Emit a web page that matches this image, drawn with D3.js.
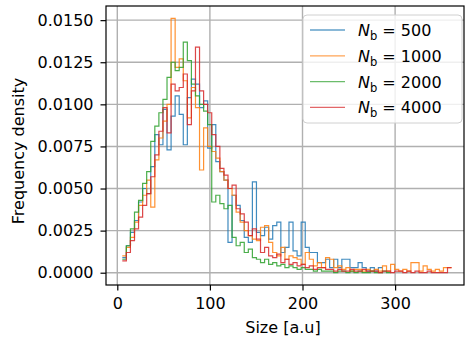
<!DOCTYPE html>
<html><head><meta charset="utf-8">
<script src="https://cdn.jsdelivr.net/npm/d3@7"></script>
<style>body{margin:0;background:#fff} text{font-family:"DejaVu Sans",sans-serif;fill:#000}</style>
</head><body><svg id="c" width="466" height="339"></svg>
<script>
// ---- data ----
const binStart = 5.4, binWidth = 4.39;
const seriesLabels = ["500", "1000", "2000", "4000"];
const seriesColors = ["#1f77b4", "#ff7f0e", "#2ca02c", "#d62728"];
const nb500 = [0.0009,0.0016,0.0024,0.0031,0.0042,0.0050,0.0047,0.0063,0.0082,0.0076,
 0.0097,0.0073,0.0093,0.0105,0.0094,0.0076,0.0104,0.0115,0.0112,0.0098,
 0.0102,0.0074,0.0088,0.0066,0.0060,0.0055,0.0018,0.0046,0.0040,0.0031,
 0.0021,0.0018,0.0054,0.0024,0.0022,0.0027,0.0020,0.0028,0.0030,0.0012,
 0.0015,0.0030,0.0013,0.0010,0.0030,0.0015,0.0012,0.0012,0.0006,0.0006,
 0.0008,0.0003,0.0008,0.0003,0.0008,0.0008,0.0003,0.0003,0.0006,0.0003,
 0.0001,0.0003,0.0001,0.0003];
const nb1000 = [0.0010,0.0015,0.0021,0.0030,0.0040,0.0046,0.0055,0.0039,0.0067,0.0080,
 0.0090,0.0100,0.0151,0.0122,0.0127,0.0114,0.0092,0.0110,0.0098,0.0061,
 0.0086,0.0075,0.0072,0.0068,0.0060,0.0055,0.0050,0.0046,0.0036,0.0030,
 0.0025,0.0022,0.0020,0.0019,0.0027,0.0028,0.0018,0.0012,0.0010,0.0015,
 0.0008,0.0010,0.0009,0.0008,0.0005,0.0012,0.0008,0.0004,0.0006,0.0003,
 0.0009,0.0008,0.0003,0.0004,0.0002,0.0003,0.0001,0.0002,0.0002,0.0001,
 0.0002,0.0001,0.0002,0.0001,0.0004,0.0001,0.0005,0.0002,0.0001,0.0002,
 0.0001,0.0006,0.0006,0.0001,0.0004,0.0002,0.0001,0.0002,0.0001,0.0003,0.0003];
const nb2000 = [0.0008,0.0016,0.0026,0.0036,0.0043,0.0053,0.0060,0.0078,0.0087,0.0095,
 0.0103,0.0116,0.0125,0.0120,0.0122,0.0137,0.0126,0.0112,0.0105,0.0100,
 0.0096,0.0088,0.0042,0.0046,0.0041,0.0038,0.0040,0.0021,0.0016,0.0018,
 0.0012,0.0014,0.0009,0.0008,0.0006,0.0008,0.0005,0.0006,0.0004,0.0005,
 0.0003,0.0004,0.0003,0.0002,0.0003,0.0002,0.0002,0.0001,0.0002,0.0001,
 0.0001,0.0001,0.0000,0.0001,0.0001,0.0000,0.0001,0.0000,0.0001,0.0000,
 0.0000,0.0001,0.0000,0.0000,0.0001,0.0000];
const nb4000 = [0.0007,0.0012,0.0019,0.0026,0.0033,0.0040,0.0047,0.0057,0.0070,0.0084,
 0.0098,0.0083,0.0112,0.0108,0.0110,0.0118,0.0088,0.0108,0.0134,0.0108,
 0.0100,0.0095,0.0082,0.0075,0.0062,0.0058,0.0050,0.0052,0.0038,0.0035,
 0.0030,0.0022,0.0026,0.0020,0.0012,0.0015,0.0010,0.0009,0.0011,0.0006,
 0.0008,0.0005,0.0006,0.0004,0.0005,0.0003,0.0004,0.0002,0.0003,0.0003,
 0.0002,0.0002,0.0001,0.0002,0.0001,0.0001,0.0002,0.0001,0.0001,0.0002,
 0.0001,0.0001,0.0001,0.0000,0.0001,0.0001,0.0000,0.0001,0.0001,0.0000,
 0.0001,0.0000,0.0001,0.0000,0.0000,0.0001,0.0000,0.0000,0.0000,0.0000,0.0003];
const seriesValues = [nb500, nb1000, nb2000, nb4000];
const xTicks = [0, 100, 200, 300];
const yTicks = [0, 0.0025, 0.005, 0.0075, 0.01, 0.0125, 0.015];

// ---- layout ----
const L = 106, R = 464, T = 6, B = 285;
const svg = d3.select("#c");
const x = d3.scaleLinear().domain([-12.2, 374.4]).range([L, R]);
const y = d3.scaleLinear().domain([-0.00073, 0.01584]).range([B, T]);

svg.append("defs").append("clipPath").attr("id", "clip")
  .append("rect").attr("x", L).attr("y", T).attr("width", R - L).attr("height", B - T);

// grid
const grid = svg.append("g");
grid.selectAll("line.gx").data(xTicks).join("line")
  .attr("x1", d => x(d)).attr("x2", d => x(d)).attr("y1", T).attr("y2", B)
  .attr("stroke", "#b0b0b0").attr("stroke-width", 1.4);
grid.selectAll("line.gy").data(yTicks).join("line")
  .attr("y1", d => y(d)).attr("y2", d => y(d)).attr("x1", L).attr("x2", R)
  .attr("stroke", "#b0b0b0").attr("stroke-width", 1.4);

// step lines
const line = d3.line().x(d => x(d[0])).y(d => y(d[1])).curve(d3.curveStepAfter);
const plot = svg.append("g").attr("clip-path", "url(#clip)");
seriesValues.forEach((vals, k) => {
  const pts = vals.map((v, i) => [binStart + i * binWidth, v]);
  pts.push([binStart + vals.length * binWidth, vals[vals.length - 1]]);
  plot.append("path").attr("d", line(pts)).attr("fill", "none")
    .attr("stroke", seriesColors[k]).attr("stroke-width", 1.2)
    .attr("stroke-opacity", 0.85);
});

// axes
const xAxis = svg.append("g").attr("transform", `translate(0,${B})`)
  .call(d3.axisBottom(x).tickValues(xTicks).tickSize(5.5).tickPadding(7).tickFormat(d3.format("d")));
const yAxis = svg.append("g").attr("transform", `translate(${L},0)`)
  .call(d3.axisLeft(y).tickValues(yTicks).tickSize(5.5).tickPadding(7).tickFormat(d3.format(".4f")));
[xAxis, yAxis].forEach(a => {
  a.select(".domain").remove();
  a.selectAll("line").attr("stroke", "#000").attr("stroke-width", 1.2);
  a.selectAll("text").attr("font-size", 16).attr("font-family", "DejaVu Sans").attr("fill", "#000");
});
// frame
svg.append("rect").attr("x", L).attr("y", T).attr("width", R - L).attr("height", B - T)
  .attr("fill", "none").attr("stroke", "#000").attr("stroke-width", 1.2);

// labels
svg.append("text").attr("x", 283).attr("y", 333).attr("text-anchor", "middle")
  .attr("font-size", 16).text("Size [a.u]");
svg.append("text").attr("transform", "translate(24,151) rotate(-90)").attr("text-anchor", "middle")
  .attr("font-size", 16).text("Frequency density");

// legend
const lg = svg.append("g");
lg.append("rect").attr("x", 303).attr("y", 15).attr("width", 159).attr("height", 108)
  .attr("rx", 4).attr("fill", "#fff").attr("fill-opacity", 0.8)
  .attr("stroke", "#d0d0d0").attr("stroke-width", 1);
seriesLabels.forEach((lab, k) => {
  const ly = 30 + k * 25.8;
  lg.append("line").attr("x1", 310).attr("x2", 345).attr("y1", ly).attr("y2", ly)
    .attr("stroke", seriesColors[k]).attr("stroke-width", 1.3).attr("stroke-opacity", 0.7);
  const t = lg.append("text").attr("x", 358).attr("y", ly + 6).attr("font-size", 16);
  t.append("tspan").attr("font-style", "italic").text("N");
  t.append("tspan").attr("font-size", 11.5).attr("dy", 4).text("b");
  t.append("tspan").attr("dy", -4).text(" = " + lab);
});
</script></body></html>
